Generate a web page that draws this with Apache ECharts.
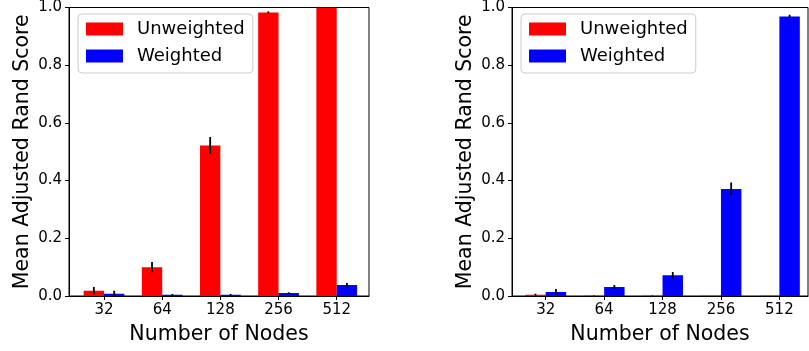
<!DOCTYPE html>
<html>
<head>
<meta charset="utf-8">
<script src="https://cdn.jsdelivr.net/npm/echarts@6/dist/echarts.min.js"></script>
<style>
  html, body { margin: 0; padding: 0; background: #fff; }
  #chart { width: 809px; height: 351px; }
</style>
</head>
<body>
<div id="chart"></div>
<script>
// node counts on the x axis
const nodes = ["32", "64", "128", "256", "512"];
const yTicks = [0, 0.2, 0.4, 0.6, 0.8, 1.0];

// left panel
const unweightedLeft = [0.018, 0.100, 0.522, 0.983, 1.000];
const unweightedLeftErr = [0.013, 0.018, 0.029, 0.003, 0.000];
const weightedLeft = [0.008, 0.004, 0.004, 0.010, 0.038];
const weightedLeftErr = [0.010, 0.003, 0.003, 0.003, 0.007];

// right panel
const unweightedRight = [0.004, 0.001, 0.001, 0.001, 0.001];
const unweightedRightErr = [0.004, 0.001, 0.001, 0.000, 0.000];
const weightedRight = [0.014, 0.031, 0.072, 0.371, 0.969];
const weightedRightErr = [0.010, 0.007, 0.011, 0.022, 0.006];

const FONT = "DejaVu Sans";
const BAR_W = 0.35;

const barRender = (offset) => (params, api) => {
    const i = api.value(0);
    const v = api.value(1);
    const err = api.value(2);
    const p0 = api.coord([i + offset, v]);
    const p1 = api.coord([i + offset + BAR_W, 0]);
    const cx = api.coord([i + offset + BAR_W / 2, 0])[0];
    const e0 = api.coord([0, v - err])[1];
    const e1 = api.coord([0, v + err])[1];
    return {
        type: "group",
        children: [
            {
                type: "rect",
                shape: { x: p0[0], y: p0[1], width: p1[0] - p0[0], height: p1[1] - p0[1] },
                style: { fill: api.visual("color") }
            },
            {
                type: "line",
                shape: { x1: cx, y1: e0, x2: cx, y2: e1 },
                style: { stroke: "#000", lineWidth: 1.8 }
            }
        ]
    };
};

const makeSeries = (name, vals, errs, color, offset, idx) => ({
    name: name,
    type: "custom",
    xAxisIndex: idx,
    yAxisIndex: idx,
    clip: true,
    itemStyle: { color: color },
    renderItem: barRender(offset),
    encode: { x: 0, y: 1 },
    data: vals.map((v, i) => [i, v, errs[i]])
});

const xAxisFor = (idx, min, max) => ({
    type: "value",
    gridIndex: idx,
    min: min,
    max: max,
    splitLine: { show: false },
    axisLine: { show: true, onZero: false, lineStyle: { color: "#000", width: 1 } },
    axisTick: { show: true, length: 4, customValues: [0, 1, 2, 3, 4], lineStyle: { color: "#000" } },
    axisLabel: {
        customValues: [0, 1, 2, 3, 4],
        formatter: (v) => nodes[v],
        color: "#000",
        fontFamily: FONT,
        fontSize: 15,
        margin: 7
    },
    name: "Number of Nodes",
    nameLocation: "middle",
    nameGap: 28,
    nameTextStyle: { color: "#000", fontFamily: FONT, fontSize: 20.5 }
});

const yAxisFor = (idx) => ({
    type: "value",
    gridIndex: idx,
    min: yTicks[0],
    max: yTicks[yTicks.length - 1],
    interval: 0.2,
    splitLine: { show: false },
    axisLine: { show: true, onZero: false, lineStyle: { color: "#000", width: 1 } },
    axisTick: { show: true, length: 4, lineStyle: { color: "#000" } },
    axisLabel: {
        formatter: (v) => v.toFixed(1),
        color: "#000",
        fontFamily: FONT,
        fontSize: 15,
        margin: 7
    },
    name: "Mean Adjusted Rand Score",
    nameLocation: "middle",
    nameRotate: 90,
    nameGap: 36,
    nameTextStyle: { color: "#000", fontFamily: FONT, fontSize: 20.5 }
});

const legendFor = (left) => ({
    left: left,
    top: 14,
    orient: "vertical",
    icon: "rect",
    itemWidth: 37,
    itemHeight: 13,
    itemGap: 9,
    padding: [6, 8, 8, 8],
    borderColor: "#cccccc",
    borderWidth: 1,
    borderRadius: 4,
    backgroundColor: "rgba(255,255,255,0.8)",
    data: ["Unweighted", "Weighted"],
    selectedMode: false,
    textStyle: { color: "#000", fontFamily: FONT, fontSize: 18, padding: [0, 0, 0, 9] }
});

const chart = echarts.init(document.getElementById("chart"), null, { renderer: "canvas" });
chart.setOption({
    backgroundColor: "#fff",
    animation: false,
    grid: [
        { left: 69, top: 5, width: 300, height: 291, show: true, borderColor: "#000", borderWidth: 1, backgroundColor: "transparent" },
        { left: 512, top: 5, width: 296, height: 291, show: true, borderColor: "#000", borderWidth: 1, backgroundColor: "transparent" }
    ],
    xAxis: [xAxisFor(0, -0.602, 4.555), xAxisFor(1, -0.577, 4.49)],
    yAxis: [yAxisFor(0), yAxisFor(1)],
    legend: [legendFor(78), legendFor(521)],
    series: [
        makeSeries("Unweighted", unweightedLeft, unweightedLeftErr, "#ff0000", -BAR_W, 0),
        makeSeries("Weighted", weightedLeft, weightedLeftErr, "#0000ff", 0, 0),
        makeSeries("Unweighted", unweightedRight, unweightedRightErr, "#ff0000", -BAR_W, 1),
        makeSeries("Weighted", weightedRight, weightedRightErr, "#0000ff", 0, 1)
    ]
});
</script>
</body>
</html>
